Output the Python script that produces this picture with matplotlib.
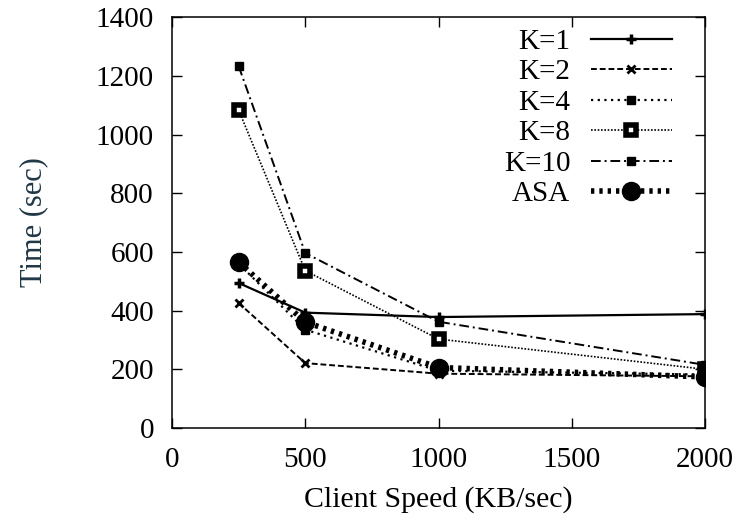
import matplotlib
matplotlib.use("Agg")
import matplotlib.pyplot as plt

plt.rcParams['font.family'] = ['Liberation Serif', 'DejaVu Serif']

# client speed (KB/sec)
speeds = [250, 500, 1000, 2000]

# completion time (sec) per scheme
k1 = [494, 393, 378, 388]
k2 = [426, 221, 185, 176]
k4 = [560, 335, 195, 182]
k8 = [1083, 536, 303, 200]
k10 = [1233, 596, 362, 215]
asa = [565, 361, 206, 174]

labels = ['K=1', 'K=2', 'K=4', 'K=8', 'K=10', 'ASA']

fig = plt.figure(figsize=(7.48, 5.2), dpi=100)
ax = fig.add_axes([0.23, 0.177, 0.7125, 0.79])

ax.plot(speeds, k1, color='black', lw=1.6, ls='-', marker='+', ms=7, mew=2.5, label=labels[0])
ax.plot(speeds, k2, color='black', lw=1.4, ls=(0, (3, 1.5)), marker='x', ms=6, mew=2, label=labels[1])
ax.plot(speeds, k4, color='black', lw=1.6, ls=(0, (1, 2)), marker='s', ms=6, label=labels[2])
ax.plot(speeds, k8, color='black', lw=1.2, ls=(0, (1, 1)), marker='s', ms=7.5, mfc='white', mew=4, label=labels[3])
ax.plot(speeds, k10, color='black', lw=1.4, ls=(0, (5, 2, 1, 2)), marker='s', ms=6, label=labels[4])
ax.plot(speeds, asa, color='black', lw=4, ls=(0, (0.6, 0.9)), marker='o', ms=13, label=labels[5])

ax.set_xlim(0, 2000)
ax.set_ylim(0, 1400)
ax.set_xticks([0, 500, 1000, 1500, 2000])
ax.set_yticks(range(0, 1401, 200))
ax.tick_params(direction='in', length=7, width=1, labelsize=21, top=True, right=True)
ax.tick_params(axis='x', pad=14)
ax.tick_params(axis='y', pad=13)
for s in ax.spines.values():
    s.set_linewidth(1.1)

ax.set_xlabel('Client Speed (KB/sec)', fontsize=21.5, labelpad=9)
ax.set_ylabel('Time (sec)', fontsize=22, color='#203845', labelpad=34)

ax.legend(loc='upper right', markerfirst=False, frameon=False, fontsize=21,
          handlelength=2.8, handletextpad=0.7, labelspacing=0.14,
          borderaxespad=0.3, bbox_to_anchor=(0.977, 1.022))

fig.savefig('out.png', dpi=100)
